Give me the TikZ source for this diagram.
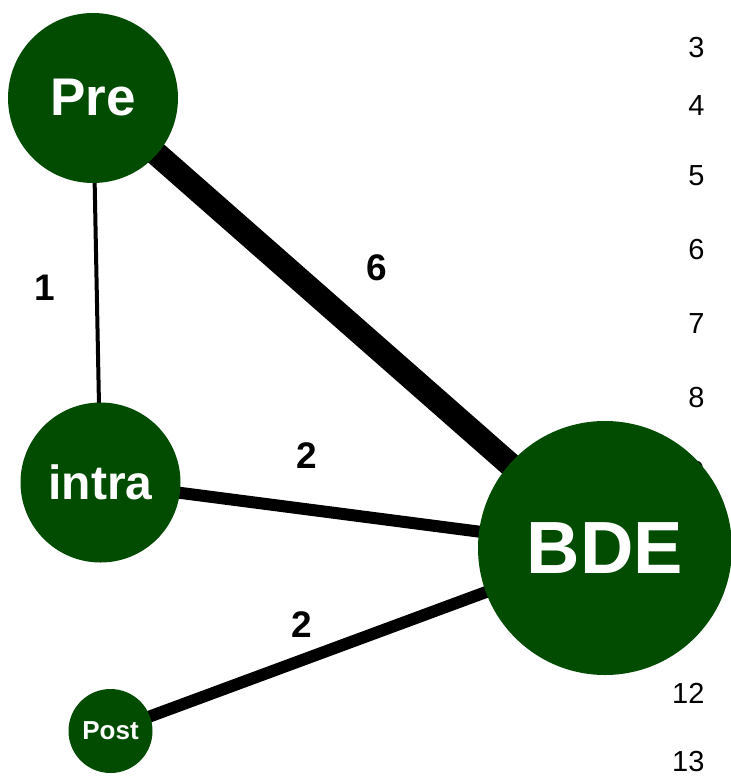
\documentclass[tikz,border=0pt]{standalone}
\usepackage{fontspec}
\setmainfont{Liberation Sans}
\usetikzlibrary{backgrounds}
\definecolor{nodegreen}{RGB}{2,76,2}

\begin{document}
\begin{tikzpicture}[x=1pt,y=-1pt,
  vertex/.style={circle,fill=nodegreen,text=white,inner sep=0pt},
  link/.style={draw=black,line width=#1},
  weight/.style={font=\fontsize{37}{40}\selectfont\bfseries,anchor=base},
  tick/.style={font=\fontsize{29}{32}\selectfont,anchor=base east}]
\useasboundingbox (0,0) rectangle (730,778);

% treatment nodes
\node[vertex,minimum size=170pt,font=\fontsize{53}{60}\selectfont\bfseries] (pre) at (93,98) {Pre};
\node[vertex,minimum size=160pt,font=\fontsize{48}{54}\selectfont\bfseries] (intra) at (100.5,482.5) {intra};
\node[vertex,minimum size=84pt,font=\fontsize{26}{30}\selectfont\bfseries] (post) at (110.5,731) {Post};
\node[vertex,minimum size=254pt,font=\fontsize{74}{80}\selectfont\bfseries] (bde) at (605,548) {BDE};

% comparisons, drawn centre to centre under the nodes
\begin{pgfonlayer}{background}
  \draw[link=4pt]  (pre.center)   -- (intra.center);
  \draw[link=24pt] (pre.center)   -- (bde.center);
  \draw[link=12pt] (intra.center) -- (bde.center);
  \draw[link=12pt] (post.center)  -- (bde.center);
  \node[tick] (t9) at (708,481) {9};
\end{pgfonlayer}

% number of studies per comparison
\node[weight] (w1) at (45,300) {1};
\node[weight] (w6) at (377,280) {6};
\node[weight] (w2a) at (307,468) {2};
\node[weight] (w2b) at (302,637) {2};

% scale on the right
\node[tick] (t3) at (708,57.5) {3};
\node[tick] (t4) at (708,115.5) {4};
\node[tick] (t5) at (708,185.5) {5};
\node[tick] (t6) at (708,259.5) {6};
\node[tick] (t7) at (708,333.5) {7};
\node[tick] (t8) at (708,407.5) {8};
\node[tick] (t12) at (708,703.5) {12};
\node[tick] (t13) at (708,771) {13};
\end{tikzpicture}
\end{document}
